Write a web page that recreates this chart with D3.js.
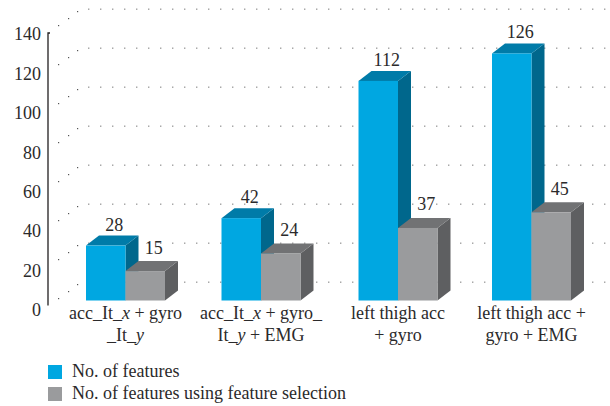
<!DOCTYPE html>
<html>
<head>
<meta charset="utf-8">
<script src="https://cdnjs.cloudflare.com/ajax/libs/d3/7.8.5/d3.min.js"></script>
<style>
html,body{margin:0;padding:0;background:#fff}
svg{display:block}
text{font-family:"Liberation Serif",serif;fill:#2b2a2b}
</style>
</head>
<body>
<svg id="c" width="610" height="406"></svg>
<script>
const categories = ["g1","g2","g3","g4"];
const categoryLabels = [
  ["acc_It_*x* + gyro","_It_*y*"],
  ["acc_It_*x* + gyro_","It_*y* + EMG"],
  ["left thigh acc","+ gyro"],
  ["left thigh acc +","gyro + EMG"]
];
const seriesNames = ["No. of features","No. of features using feature selection"];
const featuresAll = [28,42,112,126];
const featuresSelected = [15,24,37,45];
const yTicks = [0,20,40,60,80,100,120,140];

const palette = [
  {front:"#00a7e1",top:"#007ba8",side:"#00678c"},
  {front:"#9a9b9d",top:"#717274",side:"#5e5f61"}
];
const fontSize = 18;
const depth = {x:13, y:10};
const groupNudge = [0,0,1.5,-0.5];
const svg = d3.select("#c");

const x0 = d3.scaleBand().domain(categories).range([86,571.5]).paddingInner(0.417).paddingOuter(0);
const x = c => x0(c)+groupNudge[categories.indexOf(c)];
const xs = d3.scaleBand().domain([0,1]).range([0,x0.bandwidth()]);
const yFront = d3.scaleLinear().domain([0,140]).range([300.5,26]);
const yWall = d3.scaleLinear().domain([0,140]).range([282,9]);
const yLabel = d3.scaleLinear().domain([0,140]).range([310,34]);

// dotted grid: floor-to-wall diagonals and back-wall lines
const wallDots = d3.range(88,610,12);
const sideDots = [{dx:77,dy:2},{dx:68,dy:9},{dx:58,dy:16}];
const grid = svg.append("g");
yTicks.forEach(t=>{
  grid.append("g").selectAll("rect").data(wallDots).join("rect")
    .attr("x",d=>d).attr("y",yWall(t)-0.5).attr("width",1.4).attr("height",1.4).attr("fill","#a0a0a0");
  grid.append("g").selectAll("rect").data(sideDots).join("rect")
    .attr("x",d=>d.dx).attr("y",d=>yWall(t)+d.dy).attr("width",1.2).attr("height",1.2).attr("fill","#555");
});

// axis
const axis = svg.append("g").attr("transform","translate(44,0)")
  .call(d3.axisLeft(yLabel).tickValues(yTicks).tickSize(0).tickPadding(3));
axis.select(".domain").remove();
axis.selectAll("text").style("font-family",'"Liberation Serif",serif').style("font-size",fontSize+"px").attr("fill","#2b2a2b");
svg.append("path").attr("d","M50,33H48V305.5").attr("fill","none").attr("stroke","#231f20").attr("stroke-width",1.3);

// bars
const rows = categories.map((c,i)=>({c,values:[featuresAll[i],featuresSelected[i]]}));
const groups = svg.append("g").selectAll("g").data(rows).join("g")
  .attr("transform",d=>`translate(${x(d.c)},0)`);
const bars = groups.selectAll("g").data(d=>d.values.map((v,s)=>({v,s}))).join("g");
bars.append("path").attr("fill",d=>palette[d.s].side).attr("d",d=>{
  const l=xs(d.s)+xs.bandwidth(),t=yFront(d.v),b=yFront(0);
  return `M${l},${t}L${l+depth.x},${t-depth.y}V${b-depth.y}L${l},${b}Z`;});
bars.append("path").attr("fill",d=>palette[d.s].top).attr("d",d=>{
  const l=xs(d.s),w=xs.bandwidth(),t=yFront(d.v);
  return `M${l},${t}L${l+depth.x},${t-depth.y}H${l+w+depth.x}L${l+w},${t}Z`;});
bars.append("rect").attr("fill",d=>palette[d.s].front)
  .attr("x",d=>xs(d.s)).attr("y",d=>yFront(d.v)).attr("width",xs.bandwidth()).attr("height",d=>yFront(0)-yFront(d.v));

// value labels
const labelGap = [5,7.5];
groups.selectAll("text.v").data(d=>d.values.map((v,s)=>({v,s}))).join("text").attr("class","v")
  .attr("x",d=>xs(d.s)+xs.bandwidth()/2+8.5)
  .attr("y",d=>yFront(d.v)-depth.y-labelGap[d.s])
  .attr("text-anchor","middle").attr("font-size",fontSize)
  .text(d=>d.v);

// category labels with italic runs
const lineY = [319,341];
function runs(sel,str){
  str.split("*").forEach((p,i)=>{ if(p) sel.append("tspan").attr("font-style",i%2?"italic":"normal").text(p); });
}
categories.forEach((c,i)=>{
  categoryLabels[i].forEach((ln,j)=>{
    svg.append("text").attr("x",x(c)+x0.bandwidth()/2).attr("y",lineY[j])
      .attr("text-anchor","middle").attr("font-size",fontSize).call(runs,ln);
  });
});

// legend
const legend = svg.append("g").selectAll("g").data(seriesNames).join("g")
  .attr("transform",(d,i)=>`translate(48,${365+i*22})`);
legend.append("rect").attr("width",14).attr("height",14).attr("fill",(d,i)=>palette[i].front);
legend.append("text").attr("x",24).attr("y",11.5).attr("font-size",fontSize).text(d=>d);
</script>
</body>
</html>
